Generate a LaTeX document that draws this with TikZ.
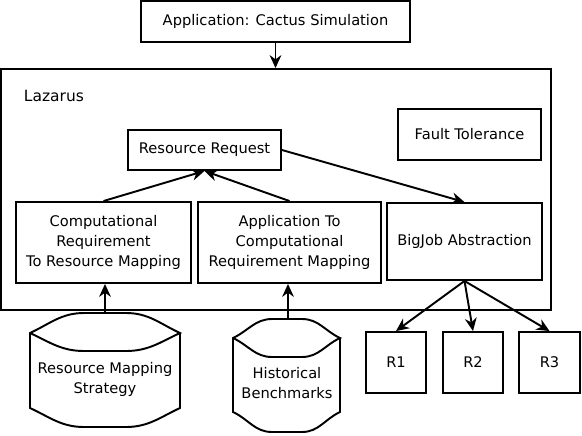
\documentclass[tikz,border=0pt]{standalone}
\usepackage{fontspec}
\setmainfont{DejaVu Sans}
\usetikzlibrary{arrows.meta}

\begin{document}
\begin{tikzpicture}[x=0.03cm, y=-0.03cm, line width=1.65pt]
\tikzset{ >={Stealth[length=11pt,width=10pt]},
  box/.style={draw, align=center, inner sep=0pt, font=\fontsize{12.5}{17}\selectfont},
  lbl/.style={align=center, inner sep=0pt, font=\fontsize{12.5}{17}\selectfont} }

\useasboundingbox (0,0) rectangle (582,435);

%\draw [lightgray, dashed](0,0) grid[step=50] (582,435);

\node [box, minimum width=8.07cm, minimum height=1.23cm] (app) at (275.5,21.5) {Application: Cactus Simulation};
\node [box, minimum width=16.5cm, minimum height=7.23cm] (laz) at (276,189.5) {};
\node [anchor=west, inner sep=0pt, font=\fontsize{13.2}{15}\selectfont] (lazname) at (23,96) {Lazarus};

\node [box, minimum width=4.59cm, minimum height=1.2cm] (req) at (204.5,150) {Resource Request};
\node [box, minimum width=4.29cm, minimum height=1.53cm] (ft) at (469.5,134.5) {Fault Tolerance};

\node [box, minimum width=5.25cm, minimum height=2.43cm] (crm) at (103.5,242.5) {Computational\\Requirement\\To Resource Mapping};
\node [box, minimum width=5.49cm, minimum height=2.43cm] (acm) at (289.5,242.5) {Application To\\Computational\\Requirement Mapping};
\node [box, minimum width=4.65cm, minimum height=2.31cm] (bj) at (464.5,241.5) {BigJob Abstraction};

\node [box, minimum width=1.8cm, minimum height=1.83cm] (r1) at (396,362.5) {R1};
\node [box, minimum width=1.8cm, minimum height=1.83cm] (r2) at (473,362.5) {R2};
\node [box, minimum width=1.83cm, minimum height=1.83cm] (r3) at (549.5,362.5) {R3};

% drums
\draw (30,333) to[out=-25,in=180] (84,351) -- (126,351) to[out=0,in=205] (180,333)
      to[out=155,in=0] (126,313) -- (84,313) to[out=180,in=25] (30,333)
      -- (30,408) to[out=-25,in=180] (84,427) -- (126,427) to[out=0,in=205] (180,408) -- (180,333);
\coordinate (rmstop) at (105,313);
\node [lbl] (rms) at (105,379) {Resource Mapping\\Strategy};

\draw (233,338) to[out=-25,in=180] (272,357) -- (302,357) to[out=0,in=205] (340,338)
      to[out=155,in=0] (302,319) -- (272,319) to[out=180,in=25] (233,338)
      -- (233,412) to[out=-25,in=180] (272,432) -- (302,432) to[out=0,in=205] (340,412) -- (340,338);
\coordinate (hbtop) at (288,319);
\node [lbl] (hb) at (287,383) {Historical\\Benchmarks};

\draw [->] (app) -- (laz.north -| app);
\draw [->] (crm.north) -- (req.south);
\draw [->] (acm.north) -- (req.south);
\draw [->] (req.east) -- (bj.north);
\draw [->] (rmstop) -- (rmstop |- crm.south);
\draw [->] (hbtop) -- (hbtop |- acm.south);
\draw [->] (bj.south) -- (r1.north);
\draw [->] (bj.south) -- (r2.north);
\draw [->] (bj.south) -- (r3.north);

\end{tikzpicture}
\end{document}
